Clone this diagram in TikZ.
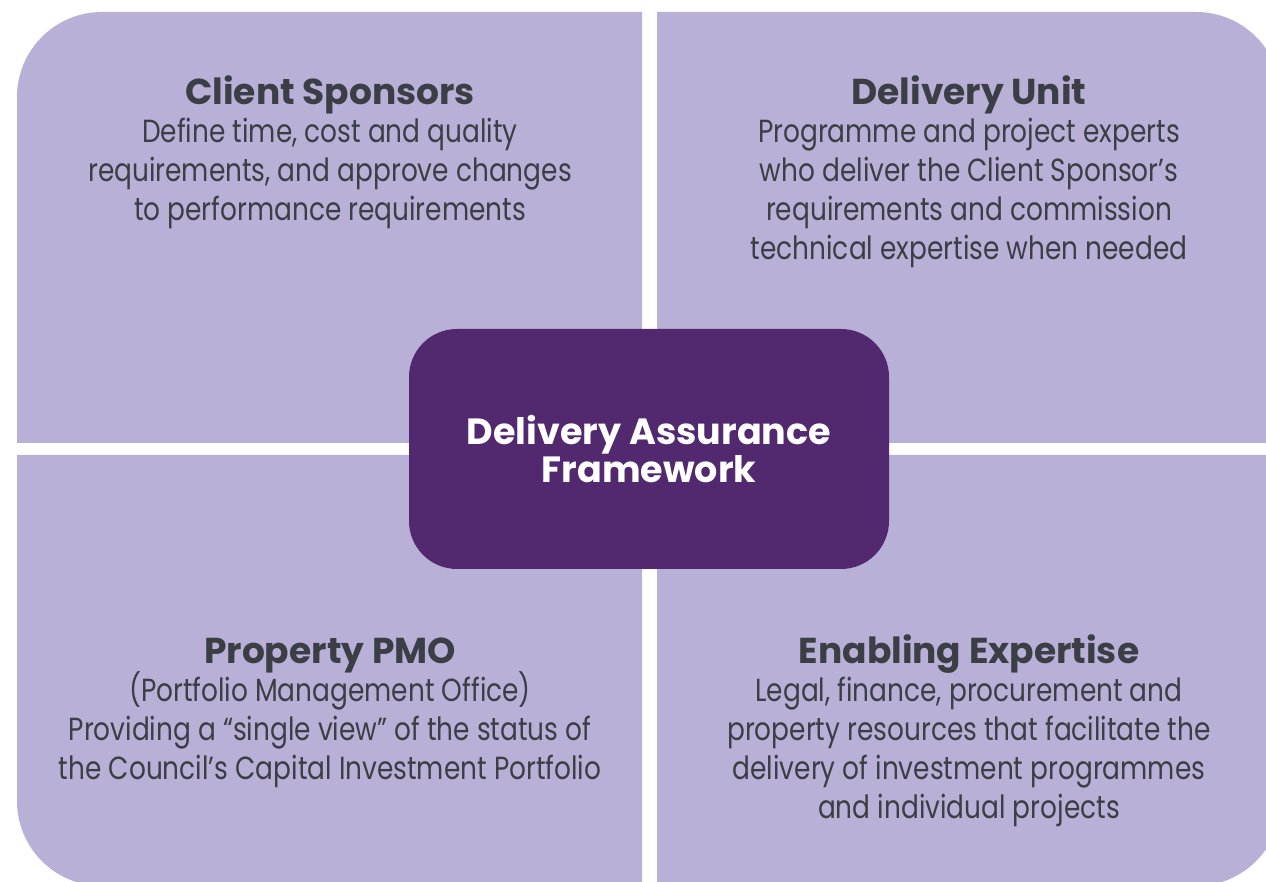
\documentclass[tikz,border=0pt]{standalone}
\usepackage{fontspec}
\newfontfamily\bodyfont{Poppins}[FakeStretch=0.825]
\newfontfamily\headfont{Poppins}
\definecolor{lav}{HTML}{B8B0D7}
\definecolor{deep}{HTML}{52286F}
\definecolor{ink}{HTML}{3B3E45}
\begin{document}
\begin{tikzpicture}[x=1pt,y=1pt,
  quad/.style={fill=lav},
  head/.style={anchor=base, inner sep=0pt, text=ink, font=\headfont\bfseries\fontsize{36}{38}\selectfont},
  body/.style={anchor=base, inner sep=0pt, text=ink, font=\bodyfont\fontsize{32}{39}\selectfont},
  centre/.style={anchor=base, inner sep=0pt, text=white, font=\headfont\bfseries\fontsize{36.5}{38}\selectfont}]
\useasboundingbox (0,0) rectangle (1266,882);
\clip (0,0) rectangle (1266,882);
% quadrants
\fill[quad] (17,439) -- (17,785) arc[start angle=180,end angle=90,radius=85] -- (642,870) -- (642,439) -- cycle;
\fill[quad] (657,439) -- (657,870) -- (1196,870) arc[start angle=90,end angle=0,radius=85] -- (1281,439) -- cycle;
\fill[quad] (17,427) -- (17,81) arc[start angle=180,end angle=270,radius=85] -- (642,-4) -- (642,427) -- cycle;
\fill[quad] (657,427) -- (1281,427) -- (1281,81) arc[start angle=0,end angle=-90,radius=85] -- (657,-4) -- cycle;
% centre box
\node[fill=deep, rounded corners=48pt, minimum width=480pt, minimum height=240pt, inner sep=0pt] (daf) at (649,433) {};
\node[centre] (daf1) at (649,437) {Delivery Assurance};
\node[centre] (daf2) at (649,399) {Framework};
% top left
\node[head] (cs) at (330,777) {Client Sponsors};
\node[body] (cs1) at (330,739) {Define time, cost and quality};
\node[body] (cs2) at (330,700) {requirements, and approve changes};
\node[body] (cs3) at (330,661) {to performance requirements};
% top right
\node[head] (du) at (969,777) {Delivery Unit};
\node[body] (du1) at (969,739) {Programme and project experts};
\node[body] (du2) at (969,700) {who deliver the Client Sponsor’s};
\node[body] (du3) at (969,661) {requirements and commission};
\node[body] (du4) at (969,622) {technical expertise when needed};
% bottom left
\node[head] (pm) at (330,218) {Property PMO};
\node[body] (pm1) at (330,180) {(Portfolio Management Office)};
\node[body] (pm2) at (330,141) {Providing a “single view” of the status of};
\node[body] (pm3) at (330,102) {the Council’s Capital Investment Portfolio};
% bottom right
\node[head] (ee) at (969,218) {Enabling Expertise};
\node[body] (ee1) at (969,180) {Legal, finance, procurement and};
\node[body] (ee2) at (969,141) {property resources that facilitate the};
\node[body] (ee3) at (969,102) {delivery of investment programmes};
\node[body] (ee4) at (969,63) {and individual projects};
\end{tikzpicture}
\end{document}
